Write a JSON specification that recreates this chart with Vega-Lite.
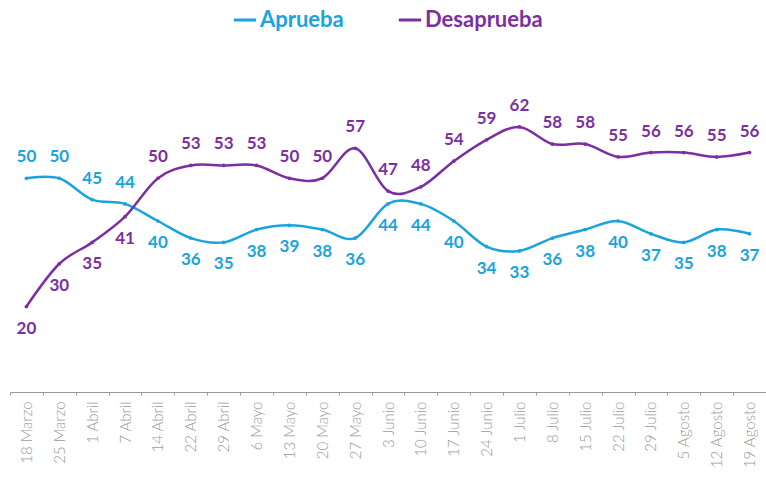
{
  "$schema": "https://vega.github.io/schema/vega-lite/v6.json",
  "autosize": {"type": "none"},
  "width": 756,
  "height": 342,
  "padding": {"left": 10, "top": 50, "right": 0, "bottom": 87},
  "background": "white",
  "config": {"view": {"stroke": null}},
  "data": {
    "values": [
      {"fecha": "18 Marzo", "Aprueba": 50, "Desaprueba": 20},
      {"fecha": "25 Marzo", "Aprueba": 50, "Desaprueba": 30},
      {"fecha": "1 Abril", "Aprueba": 45, "Desaprueba": 35},
      {"fecha": "7 Abril", "Aprueba": 44, "Desaprueba": 41},
      {"fecha": "14 Abril", "Aprueba": 40, "Desaprueba": 50},
      {"fecha": "22 Abril", "Aprueba": 36, "Desaprueba": 53},
      {"fecha": "29 Abril", "Aprueba": 35, "Desaprueba": 53},
      {"fecha": "6 Mayo", "Aprueba": 38, "Desaprueba": 53},
      {"fecha": "13 Mayo", "Aprueba": 39, "Desaprueba": 50},
      {"fecha": "20 Mayo", "Aprueba": 38, "Desaprueba": 50},
      {"fecha": "27 Mayo", "Aprueba": 36, "Desaprueba": 57},
      {"fecha": "3 Junio", "Aprueba": 44, "Desaprueba": 47},
      {"fecha": "10 Junio", "Aprueba": 44, "Desaprueba": 48},
      {"fecha": "17 Junio", "Aprueba": 40, "Desaprueba": 54},
      {"fecha": "24 Junio", "Aprueba": 34, "Desaprueba": 59},
      {"fecha": "1 Julio", "Aprueba": 33, "Desaprueba": 62},
      {"fecha": "8 Julio", "Aprueba": 36, "Desaprueba": 58},
      {"fecha": "15 Julio", "Aprueba": 38, "Desaprueba": 58},
      {"fecha": "22 Julio", "Aprueba": 40, "Desaprueba": 55},
      {"fecha": "29 Julio", "Aprueba": 37, "Desaprueba": 56},
      {"fecha": "5 Agosto", "Aprueba": 35, "Desaprueba": 56},
      {"fecha": "12 Agosto", "Aprueba": 38, "Desaprueba": 55},
      {"fecha": "19 Agosto", "Aprueba": 37, "Desaprueba": 56}
    ]
  },
  "encoding": {
    "x": {
      "field": "fecha",
      "type": "ordinal",
      "sort": null,
      "scale": {"type": "band", "paddingInner": 0, "paddingOuter": 0},
      "axis": {
        "title": null,
        "labelAngle": -90,
        "labelAlign": "right",
        "labelBaseline": "middle",
        "labelFont": "Lato",
        "labelFontWeight": 300,
        "labelFontSize": 15,
        "labelColor": "#9a9a9a",
        "labelPadding": 6,
        "tickBand": "extent",
        "ticks": true,
        "tickSize": 3,
        "tickColor": "#9a9a9a",
        "domainColor": "#9a9a9a",
        "domainWidth": 1,
        "grid": false
      }
    }
  },
  "layer": [
    {
      "transform": [{"fold": ["Aprueba", "Desaprueba"], "as": ["serie", "valor"]}],
      "mark": {"type": "line", "interpolate": "cardinal", "strokeWidth": 2.5, "point": {"filled": true, "size": 14}},
      "encoding": {
        "y": {"field": "valor", "type": "quantitative", "scale": {"domain": [0, 80]}, "axis": null},
        "color": {
          "field": "serie",
          "type": "nominal",
          "scale": {"domain": ["Aprueba", "Desaprueba"], "range": ["#1aa3dd", "#7b2fa0"]},
          "legend": {
            "title": null,
            "orient": "none",
            "direction": "horizontal",
            "legendX": 222,
            "legendY": -43,
            "symbolType": "stroke",
            "symbolStrokeWidth": 3,
            "symbolSize": 500,
            "labelFont": "Lato",
            "labelFontSize": 22,
            "labelFontWeight": "bold",
            "labelOffset": 2,
            "columnPadding": 48,
            "encode": {"labels": {"update": {"fill": {"scale": "color", "field": "value"}}}}
          }
        }
      }
    },
    {
      "transform": [{"filter": "datum.Aprueba > datum.Desaprueba"}],
      "mark": {"type": "text", "dy": -21, "font": "Lato", "fontSize": 17, "fontWeight": "bold", "color": "#1aa3dd"},
      "encoding": {"y": {"field": "Aprueba", "type": "quantitative"}, "text": {"field": "Aprueba"}}
    },
    {
      "transform": [{"filter": "datum.Aprueba <= datum.Desaprueba"}],
      "mark": {"type": "text", "dy": 22, "font": "Lato", "fontSize": 17, "fontWeight": "bold", "color": "#1aa3dd"},
      "encoding": {"y": {"field": "Aprueba", "type": "quantitative"}, "text": {"field": "Aprueba"}}
    },
    {
      "transform": [{"filter": "datum.Desaprueba > datum.Aprueba"}],
      "mark": {"type": "text", "dy": -21, "font": "Lato", "fontSize": 17, "fontWeight": "bold", "color": "#7b2fa0"},
      "encoding": {"y": {"field": "Desaprueba", "type": "quantitative"}, "text": {"field": "Desaprueba"}}
    },
    {
      "transform": [{"filter": "datum.Desaprueba <= datum.Aprueba"}],
      "mark": {"type": "text", "dy": 22, "font": "Lato", "fontSize": 17, "fontWeight": "bold", "color": "#7b2fa0"},
      "encoding": {"y": {"field": "Desaprueba", "type": "quantitative"}, "text": {"field": "Desaprueba"}}
    }
  ]
}
